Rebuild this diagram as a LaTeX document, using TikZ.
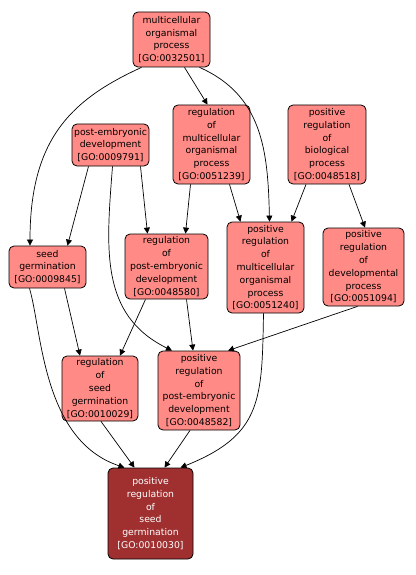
\documentclass[tikz,border=0pt]{standalone}
\usepackage{fontspec}
\setmainfont{DejaVu Sans}
\usetikzlibrary{arrows.meta}
\definecolor{gofill}{HTML}{FF8A86}
\definecolor{godark}{HTML}{A03030}
\tikzset{
  gonode/.style={draw=black, line width=0.8pt, fill=gofill, rounded corners=5pt,
    align=center, font=\fontsize{9.3}{12.8}\selectfont, inner sep=0pt},
  darknode/.style={gonode, fill=godark, text=white},
  edge/.style={draw=black, line width=0.7pt, -{Triangle[length=6pt,width=6pt]}}
}
\begin{document}
\begin{tikzpicture}[x=1pt,y=-1pt]
\useasboundingbox (0,0) rectangle (415,575);
\node[gonode, minimum width=77, minimum height=55] (n1) at (171.5,39.5) {multicellular\\organismal\\process\\{[GO:0032501]}};
\node[gonode, minimum width=77, minimum height=42] (n2) at (110.5,145) {post-embryonic\\development\\{[GO:0009791]}};
\node[gonode, minimum width=77, minimum height=79] (n3) at (211.5,144.5) {regulation\\of\\multicellular\\organismal\\process\\{[GO:0051239]}};
\node[gonode, minimum width=78, minimum height=79] (n4) at (327,144.5) {positive\\regulation\\of\\biological\\process\\{[GO:0048518]}};
\node[gonode, minimum width=77, minimum height=42] (n5) at (47.5,267) {seed\\germination\\{[GO:0009845]}};
\node[gonode, minimum width=83, minimum height=65] (n6) at (166.5,266.5) {regulation\\of\\post-embryonic\\development\\{[GO:0048580]}};
\node[gonode, minimum width=77, minimum height=91] (n7) at (265.5,267.5) {positive\\regulation\\of\\multicellular\\organismal\\process\\{[GO:0051240]}};
\node[gonode, minimum width=81, minimum height=78] (n8) at (363.5,267) {positive\\regulation\\of\\developmental\\process\\{[GO:0051094]}};
\node[gonode, minimum width=76, minimum height=65] (n9) at (100,388.5) {regulation\\of\\seed\\germination\\{[GO:0010029]}};
\node[gonode, minimum width=82, minimum height=79] (n10) at (199,390.5) {positive\\regulation\\of\\post-embryonic\\development\\{[GO:0048582]}};
\node[darknode, minimum width=85, minimum height=91] (n11) at (150.5,513.5) {positive\\regulation\\of\\seed\\germination\\{[GO:0010030]}};

\draw[edge] ([xshift=-30]n1.south) .. controls (70,100) and (30,140) .. ([xshift=-17.5]n5.north);
\draw[edge] ([xshift=13]n1.south) -- ([xshift=-4]n3.north);
\draw[edge] ([xshift=28]n1.south) .. controls (262,95) and (268,150) .. ([xshift=4]n7.north);
\draw[edge] ([xshift=-22]n2.south) -- ([xshift=20]n5.north);
\draw[edge] ([xshift=30]n2.south) -- ([xshift=-19]n6.north);
\draw[edge] ([xshift=2]n2.south) .. controls (106,250) and (100,315) .. ([xshift=-27]n10.north);
\draw[edge] ([xshift=-21]n3.south) -- ([xshift=19]n6.north);
\draw[edge] ([xshift=18]n3.south) -- ([xshift=-25]n7.north);
\draw[edge] ([xshift=-21]n4.south) -- ([xshift=26]n7.north);
\draw[edge] ([xshift=22]n4.south) -- ([xshift=1.5]n8.north);
\draw[edge] ([xshift=17]n5.south) -- ([xshift=-20]n9.north);
\draw[edge] ([xshift=-18]n5.south) .. controls (42,330) and (42,440) .. ([xshift=-26]n11.north);
\draw[edge] ([xshift=-21]n6.south) -- ([xshift=20]n9.north);
\draw[edge] ([xshift=20]n6.south) -- ([xshift=-6]n10.north);
\draw[edge] ([xshift=-2]n7.south) .. controls (262,400) and (262,435) .. ([xshift=30]n11.north);
\draw[edge] ([xshift=-6]n8.south) -- ([xshift=29]n10.north);
\draw[edge] ([xshift=1]n9.south) -- ([xshift=-16]n11.north);
\draw[edge] ([xshift=-9]n10.south) -- ([xshift=14]n11.north);
\end{tikzpicture}
\end{document}
